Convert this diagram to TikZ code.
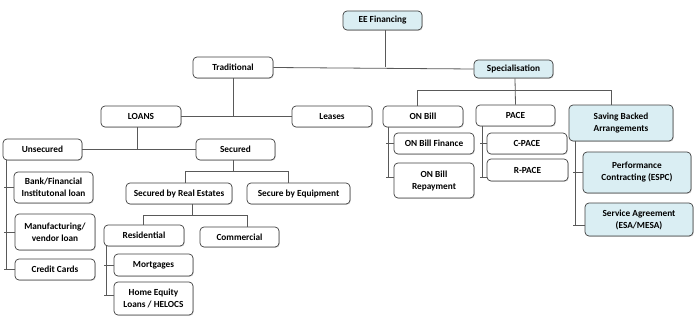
\documentclass[tikz,border=0pt]{standalone}
\usepackage{fontspec}
\setmainfont{Carlito}
\usetikzlibrary{calc,shadows}
\definecolor{boxblue}{HTML}{DAEEF3}
\definecolor{boxline}{HTML}{404040}
\definecolor{conn}{HTML}{595959}
\tikzset{
  box/.style={draw=boxline, line width=0.7pt, rounded corners=4pt, fill=white,
    align=center, inner sep=1pt, font=\fontsize{9.3}{12}\selectfont\bfseries,
    drop shadow={shadow xshift=0.8pt, shadow yshift=-0.8pt, opacity=0.35}},
  bluebox/.style={box, fill=boxblue},
  link/.style={draw=conn, line width=0.8pt}
}
\begin{document}
\begin{tikzpicture}[x=1pt,y=-1pt]
\useasboundingbox (0,0) rectangle (699,321);
% nodes
\node[bluebox, minimum width=79pt, minimum height=19pt] (EE) at (382.5,20.5) {EE Financing};
\node[box, minimum width=80pt, minimum height=21pt] (Trad) at (233,67.5) {Traditional};
\node[bluebox, minimum width=79pt, minimum height=18pt] (Spec) at (513.5,69) {Specialisation};
\node[box, minimum width=80pt, minimum height=21pt] (LOANS) at (141,116.5) {LOANS};
\node[box, minimum width=80pt, minimum height=21pt] (Leases) at (332,116.5) {Leases};
\node[box, minimum width=79pt, minimum height=21pt] (Unsec) at (42.5,149.5) {Unsecured};
\node[box, minimum width=79pt, minimum height=21pt] (Sec) at (235.5,149.5) {Secured};
\node[box, minimum width=79pt, minimum height=31pt] (Bank) at (53.5,187.5) {Bank/Financial\\Institutonal loan};
\node[box, minimum width=80pt, minimum height=36pt] (Manuf) at (55,232) {Manufacturing/\\vendor loan};
\node[box, minimum width=80pt, minimum height=21pt] (Credit) at (55,269.5) {Credit Cards};
\node[box, minimum width=106pt, minimum height=21pt] (SRE) at (179,193.5) {Secured by Real Estates};
\node[box, minimum width=103pt, minimum height=21pt] (SEq) at (298.5,193.5) {Secure by Equipment};
\node[box, minimum width=80pt, minimum height=21pt] (Resid) at (144,235.5) {Residential};
\node[box, minimum width=79pt, minimum height=20pt] (Comm) at (239.5,237) {Commercial};
\node[box, minimum width=79pt, minimum height=22pt] (Mort) at (153.5,265) {Mortgages};
\node[box, minimum width=79pt, minimum height=33pt] (Home) at (153.5,298.5) {Home Equity\\Loans / HELOCS};
\node[box, minimum width=80pt, minimum height=21pt] (ONBill) at (423,116.5) {ON Bill};
\node[box, minimum width=79pt, minimum height=21pt] (PACE) at (515.5,115.5) {PACE};
\node[bluebox, minimum width=104pt, minimum height=36pt] (Saving) at (621,123) {Saving Backed\\Arrangements};
\node[box, minimum width=80pt, minimum height=21pt] (ONBF) at (434,143.5) {ON Bill Finance};
\node[box, minimum width=80pt, minimum height=35pt] (ONBR) at (434,180.5) {ON Bill\\Repayment};
\node[box, minimum width=80pt, minimum height=21pt] (CPACE) at (527,143.5) {C-PACE};
\node[box, minimum width=81pt, minimum height=22pt] (RPACE) at (527.5,170) {R-PACE};
\node[bluebox, minimum width=108pt, minimum height=41pt] (Perf) at (637,172.5) {Performance\\Contracting (ESPC)};
\node[bluebox, minimum width=108pt, minimum height=33pt] (Serv) at (639,219.5) {Service Agreement\\(ESA/MESA)};
% connectors
\draw[link] ([xshift=2.5pt]EE.south) -- ([xshift=2.5pt]EE.south |- Trad.east);
\draw[link] (Trad.east) -- (Spec.west);
\draw[link] (Trad.south) -- (Trad.south |- LOANS.east);
\draw[link] (LOANS.east) -- (Leases.west);
\draw[link] ([xshift=-4pt]LOANS.south) -- ([xshift=-4pt]LOANS.south |- Unsec.east);
\draw[link] (Unsec.east) -- (Sec.west);
% Secured
\draw[link] ([xshift=-2.5pt]Sec.south) -- ++(0,12);
\draw[link] ([xshift=6pt]SRE.north) -- ++(0,-11) -| ([xshift=-10.5pt]SEq.north);
% Secured by real estates
\draw[link] ([xshift=13pt]SRE.south) -- ++(0,12);
\draw[link] ([xshift=-1pt]Resid.north) -- ++(0,-9) -| ([xshift=7.5pt]Comm.north);
% Unsecured children
\coordinate (ut) at ([xshift=4pt]Unsec.south west);
\draw[link] (ut) -- (ut |- Credit.west);
\draw[link] ($(ut |- Bank.west)+(-2.5,0)$) -- (Bank.west);
\draw[link] ($(ut |- Manuf.west)+(-2.5,0)$) -- (Manuf.west);
\draw[link] ($(ut |- Credit.west)+(-2.5,0)$) -- (Credit.west);
% Residential children
\coordinate (rt) at ([xshift=3pt]Resid.south west);
\draw[link] (rt) -- ($(rt |- Home.west)+(0,-3.5)$);
\draw[link] ($(rt |- Mort.west)+(-2.5,0)$) -- (Mort.west);
\draw[link] ($(rt |- Home.west)+(-2.5,-3.5)$) -- ([yshift=3.5pt]Home.west);
% Specialisation
\draw[link] ([xshift=1.5pt]Spec.south) -- (PACE.north);
\draw[link] ([xshift=-6pt]ONBill.north) -- ++(0,-15) -| ([xshift=-10pt]Saving.north);
% ON Bill children
\coordinate (ot) at ([xshift=6pt]ONBill.south west);
\draw[link] (ot) -- ($(ot |- ONBR.west)+(0,-3.5)$);
\draw[link] ($(ot |- ONBF.west)+(-2.5,0)$) -- (ONBF.west);
\draw[link] ($(ot |- ONBR.west)+(-2.5,-3.5)$) -- ([yshift=3.5pt]ONBR.west);
% PACE children
\coordinate (pt) at ([xshift=7pt]PACE.south west);
\draw[link] (pt) -- ($(pt |- RPACE.west)+(0,7)$);
\draw[link] ($(pt |- CPACE.west)+(-2.5,0)$) -- (CPACE.west);
\draw[link] ($(pt |- RPACE.west)+(-2.5,7)$) -- ([yshift=-7pt]RPACE.west);
% Saving children
\coordinate (st) at ([xshift=7pt]Saving.south west);
\draw[link] (st) -- ($(st |- Serv.west)+(0,5.5)$);
\draw[link] ($(st |- Perf.west)+(-2.5,0)$) -- (Perf.west);
\draw[link] ($(st |- Serv.west)+(-2.5,5.5)$) -- ([yshift=-5.5pt]Serv.west);
\end{tikzpicture}
\end{document}
